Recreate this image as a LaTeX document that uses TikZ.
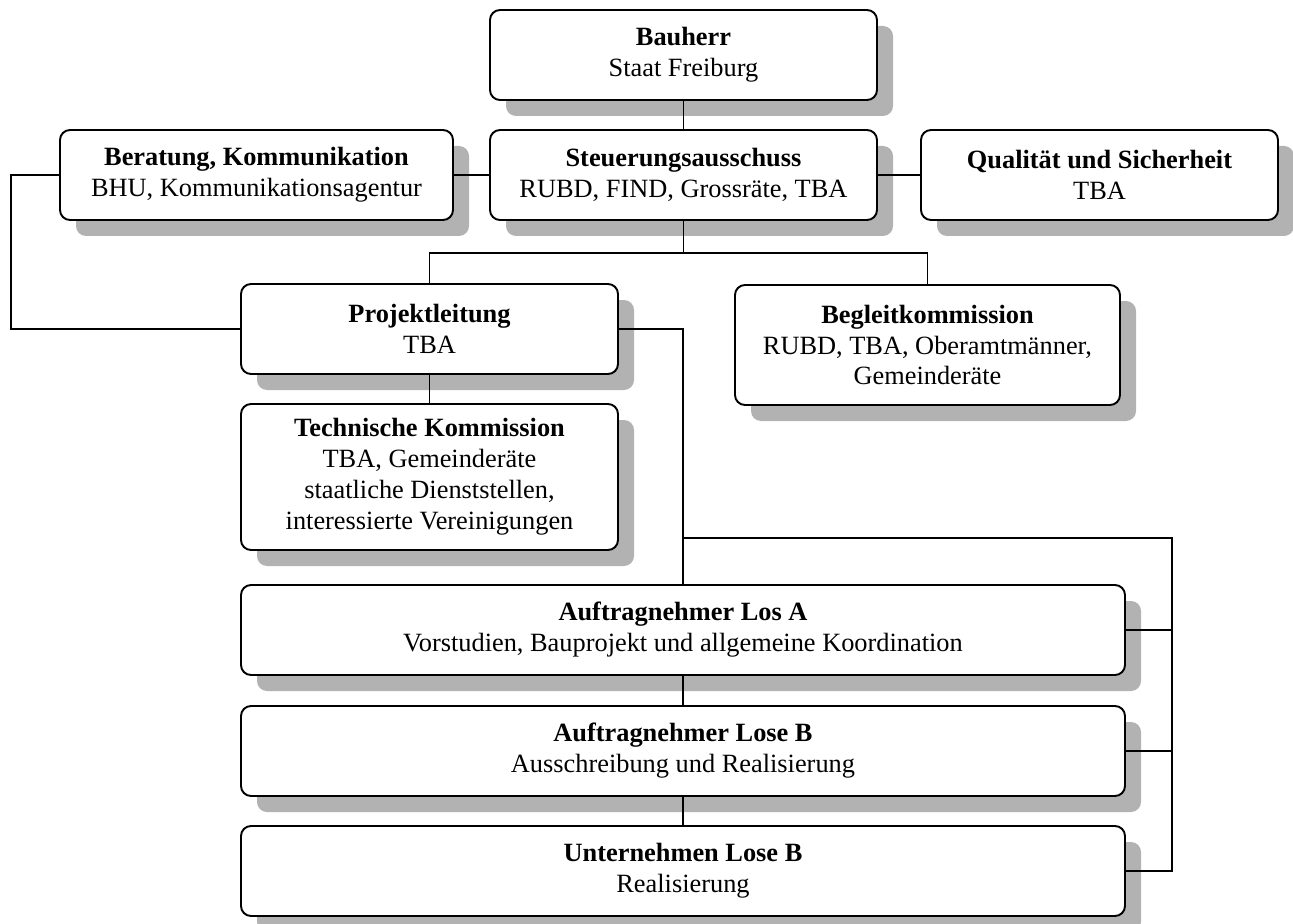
\documentclass[tikz,border=0pt]{standalone}
\usepackage{fontspec}
\setmainfont{Liberation Serif}
\usepackage{xcolor}
\usepackage{tikz}
\usetikzlibrary{shadows}

\begin{document}
\begin{tikzpicture}[
				box/.style={
					rectangle,
					draw=black,
					line width=1.1pt,
					minimum height=1.8cm,
					align=center,
					inner sep=2pt,
					rounded corners=2mm,
					fill=white,
					font=\fontsize{15}{17.6}\selectfont,
					drop shadow={shadow xshift=0.32cm, shadow yshift=-0.32cm, fill=black!30, opacity=1}
				},
				link/.style={
					line width=0.8pt
				}
			]
			\useasboundingbox (0,0) rectangle (25.86,-18.48);
			% Nodes
			\node[box, minimum width=7.74cm] (bauherr) at (13.67,-1.1) {\textbf{Bauherr}\\ Staat Freiburg};
			\node[box, minimum width=7.74cm] (steuerung) at (13.67,-3.5) {\textbf{Steuerungsausschuss}\\ RUBD, FIND, Grossräte, TBA};
			\node[box, minimum width=7.86cm] (beratung) at (5.13,-3.5) {\textbf{Beratung, Kommunikation}\\ BHU, Kommunikationsagentur};
			\node[box, minimum width=7.14cm] (qualitaet) at (21.99,-3.5) {\textbf{Qualität und Sicherheit}\\ TBA};
			\node[box, minimum width=7.54cm] (projekt) at (8.59,-6.58) {\textbf{Projektleitung}\\ TBA};
			\node[box, minimum width=7.54cm, minimum height=2.92cm] (technik) at (8.59,-9.54) {\textbf{Technische Kommission}\\ TBA, Gemeinderäte\\ staatliche Dienststellen,\\ interessierte Vereinigungen};
			\node[box, minimum width=7.7cm, minimum height=2.4cm] (begleit) at (18.55,-6.9) {\textbf{Begleitkommission}\\ RUBD, TBA, Oberamtmänner,\\ Gemeinderäte};
			\node[box, minimum width=17.68cm] (losA) at (13.66,-12.6) {\textbf{Auftragnehmer Los A}\\ Vorstudien, Bauprojekt und allgemeine Koordination};
			\node[box, minimum width=17.68cm] (loseB) at (13.66,-15.02) {\textbf{Auftragnehmer Lose B}\\ Ausschreibung und Realisierung};
			\node[box, minimum width=17.68cm] (unternehmen) at (13.66,-17.42) {\textbf{Unternehmen Lose B}\\ Realisierung};

			\coordinate (knot) at (13.67,-5.06);
			\coordinate (bus) at (13.66,-10.76);
			\coordinate (rechts) at (23.44,-10.76);

			\draw[link] (bauherr) -- (steuerung);
			\draw[link] (steuerung) -- (beratung);
			\draw[link] (steuerung) -- (qualitaet);
			\draw[link] (steuerung.south) -- (knot);
			\draw[link] (projekt.north) |- (knot) -| (begleit.north);
			\draw[link] (beratung.west) -- ++(-0.96,0) |- (projekt.west);
			\draw[link] (projekt) -- (technik);
			\draw[link] (projekt.east) -| (losA.north);
			\draw[link] (bus) -- (rechts) |- (unternehmen.east);
			\draw[link] (losA.east) -- (losA.east -| rechts);
			\draw[link] (loseB.east) -- (loseB.east -| rechts);
			\draw[link] (losA) -- (loseB);
			\draw[link] (loseB) -- (unternehmen);
		\end{tikzpicture}
\end{document}
